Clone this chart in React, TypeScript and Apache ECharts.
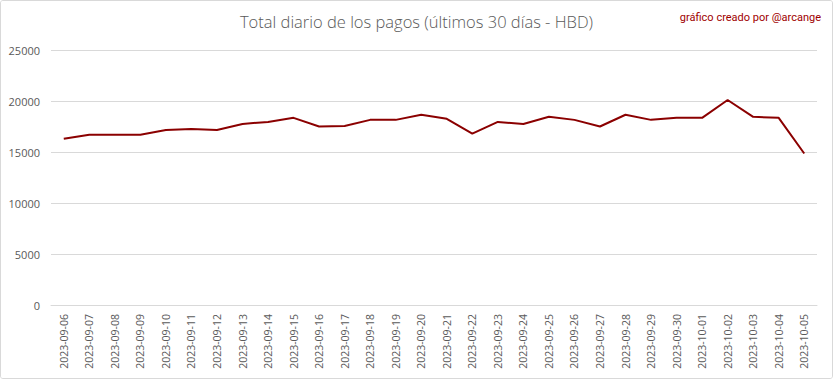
import React, { useEffect, useRef } from "react";
import * as echarts from "echarts";

const categories = [
  "2023-09-06", "2023-09-07", "2023-09-08", "2023-09-09", "2023-09-10",
  "2023-09-11", "2023-09-12", "2023-09-13", "2023-09-14", "2023-09-15",
  "2023-09-16", "2023-09-17", "2023-09-18", "2023-09-19", "2023-09-20",
  "2023-09-21", "2023-09-22", "2023-09-23", "2023-09-24", "2023-09-25",
  "2023-09-26", "2023-09-27", "2023-09-28", "2023-09-29", "2023-09-30",
  "2023-10-01", "2023-10-02", "2023-10-03", "2023-10-04", "2023-10-05",
];

const totals = [
  16300, 16700, 16700, 16700, 17150,
  17250, 17150, 17750, 17950, 18350,
  17500, 17550, 18150, 18150, 18650,
  18250, 16800, 17950, 17750, 18450,
  18150, 17500, 18650, 18150, 18350,
  18350, 20100, 18450, 18350, 14850,
];

const yTicks = [0, 5000, 10000, 15000, 20000, 25000];

const titleText = "Total diario de los pagos (últimos 30 días - HBD)";
const creditText = "gráfico creado por @arcange";

export default function App() {
  const ref = useRef<HTMLDivElement>(null);

  useEffect(() => {
    document.body.style.margin = "0";
    if (!ref.current) return;
    const chart = echarts.init(ref.current, undefined, { renderer: "svg" });
    const font = "Open Sans, Noto Sans, sans-serif";
    chart.setOption({
      animation: false,
      backgroundColor: "#ffffff",
      textStyle: { fontFamily: font },
      title: [
        {
          text: titleText,
          left: "center",
          top: 7,
          textStyle: { fontFamily: font, fontSize: 16.5, fontWeight: 300, color: "#595959" },
        },
        {
          text: creditText,
          right: 6,
          top: 6,
          textStyle: { fontFamily: "Liberation Sans Narrow, Roboto, sans-serif", fontSize: 11, fontWeight: "normal", color: "#a00000" },
        },
      ],
      grid: { left: 50, right: 15, top: 49, bottom: 73, containLabel: false },
      xAxis: {
        type: "category",
        data: categories,
        boundaryGap: true,
        axisLine: { show: true, lineStyle: { color: "#d9d9d9" } },
        axisTick: { show: false },
        axisLabel: {
          rotate: 90,
          interval: 0,
          fontSize: 10.5,
          color: "#595959",
          margin: 9,
          fontFamily: font,
        },
      },
      yAxis: {
        type: "value",
        min: yTicks[0],
        max: yTicks[yTicks.length - 1],
        interval: 5000,
        axisLine: { show: false },
        axisTick: { show: false },
        splitLine: { lineStyle: { color: "#d9d9d9", width: 1 } },
        axisLabel: {
          fontSize: 11,
          color: "#595959",
          margin: 11,
          fontFamily: font,
          formatter: (v: number) => String(v),
        },
      },
      series: [
        {
          type: "line",
          data: totals,
          symbol: "none",
          lineStyle: { color: "#8b0000", width: 2 },
          itemStyle: { color: "#8b0000" },
        },
      ],
    });
    return () => chart.dispose();
  }, []);

  return (
    <div
      style={{
        width: 833,
        height: 379,
        boxSizing: "border-box",
        border: "1px solid #d9d9d9",
        borderRadius: 3,
        overflow: "hidden",
      }}
    >
      <div ref={ref} style={{ width: 831, height: 377 }} />
    </div>
  );
}
